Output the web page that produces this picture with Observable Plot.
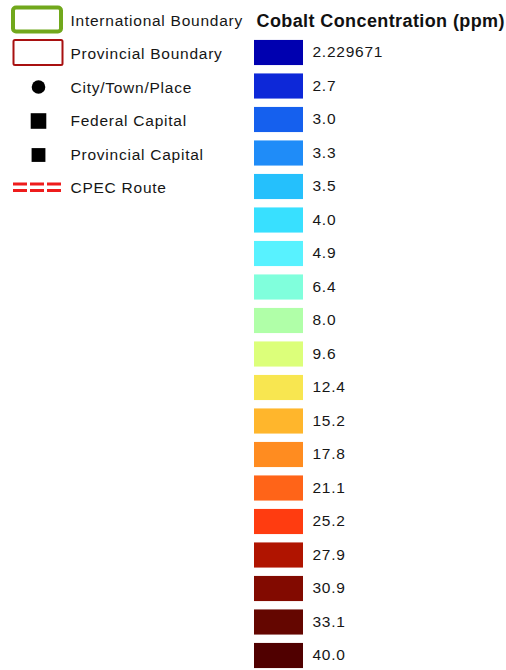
<!DOCTYPE html>
<html>
<head>
<meta charset="utf-8">
<script src="https://cdn.jsdelivr.net/npm/d3@7"></script>
<script src="https://cdn.jsdelivr.net/npm/@observablehq/plot@0.6"></script>
<style>
  html, body { margin: 0; padding: 0; background: #fff; }
  svg { display: block; }
</style>
</head>
<body>
<div id="chart"></div>
<script>
// ---- data ----
const title = "Cobalt Concentration (ppm)";
const classLabels = ["2.229671","2.7","3.0","3.3","3.5","4.0","4.9","6.4","8.0","9.6","12.4","15.2","17.8","21.1","25.2","27.9","30.9","33.1","40.0"];
const classColors = ["#0000b0","#0d28d8","#1560ee","#1f8cf8","#25c0fc","#38e0ff","#58f2ff","#80ffdc","#b0ffa8","#dcff7a","#f8e650","#ffb62c","#ff8c20","#ff6418","#ff3c10","#b01400","#820a00","#640600","#500000"];
const legendItems = ["International Boundary","Provincial Boundary","City/Town/Place","Federal Capital","Provincial Capital","CPEC Route"];

// ---- layout ----
const font = "Liberation Sans, Arial, sans-serif";
const rowOf = (d, i) => i;
const half = 0.375;
const leftRows = legendItems.map((d, i) => ({name: d, row: i - 1}));

const chart = Plot.plot({
  width: 506,
  height: 670,
  margin: 0,
  style: {background: "#fff", fontFamily: font},
  x: {domain: [0, 506], range: [0, 506], axis: null},
  y: {domain: [-1, 18], range: [19, 655.5], axis: null},
  color: {type: "ordinal", domain: classLabels, range: classColors},
  marks: [
    // title
    Plot.text([title], {x: 256, y: -1, text: d => d, textAnchor: "start", fontSize: 18, fontWeight: "bold", fill: "#111", dy: 1.5}),
    // swatches
    Plot.rect(classLabels, {x1: 254, x2: 303, y1: (d, i) => i - half, y2: (d, i) => i + half, fill: d => d}),
    Plot.text(classLabels, {x: 312, y: rowOf, text: d => d, textAnchor: "start", fontSize: 15.5, fill: "#161616", dy: -0.5}),
    // left legend
    Plot.rect(leftRows.filter(d => d.name === "International Boundary"), {x1: 13, x2: 61, y1: d => d.row - 0.36, y2: d => d.row + 0.36, dy: 0.5, fill: "#fff", stroke: "#71a81c", strokeWidth: 4, rx: 3}),
    Plot.rect(leftRows.filter(d => d.name === "Provincial Boundary"), {x1: 13.5, x2: 62.5, y1: d => d.row - 0.37, y2: d => d.row + 0.37, fill: "#fff", stroke: "#a81010", strokeWidth: 2, rx: 1.5}),
    Plot.dot(leftRows.filter(d => d.name === "City/Town/Place"), {x: 38, y: "row", r: 6.8, fill: "#000", symbol: "circle", dy: 0.5}),
    Plot.dot(leftRows.filter(d => d.name === "Federal Capital"), {x: 38, y: "row", r: 8.8, fill: "#000", symbol: "square", dy: 1}),
    Plot.dot(leftRows.filter(d => d.name === "Provincial Capital"), {x: 38, y: "row", r: 7.8, fill: "#000", symbol: "square", dy: 1.5}),
    Plot.ruleY(leftRows.filter(d => d.name === "CPEC Route"), {y: "row", x1: 13, x2: 63, stroke: "#ee1c1c", strokeWidth: 3, strokeDasharray: "14,3", dy: -3}),
    Plot.ruleY(leftRows.filter(d => d.name === "CPEC Route"), {y: "row", x1: 13, x2: 63, stroke: "#ee1c1c", strokeWidth: 3, strokeDasharray: "14,3", dy: 3.5}),
    Plot.text(leftRows, {x: 70, y: "row", text: "name", textAnchor: "start", fontSize: 15.5, fill: "#161616", dy: 1.3})
  ]
});
d3.select(chart).selectAll("text").each(function () {
  this.style.letterSpacing = this.textContent === title ? "0.4px" : "0.75px";
});
document.getElementById("chart").appendChild(chart);
</script>
</body>
</html>
